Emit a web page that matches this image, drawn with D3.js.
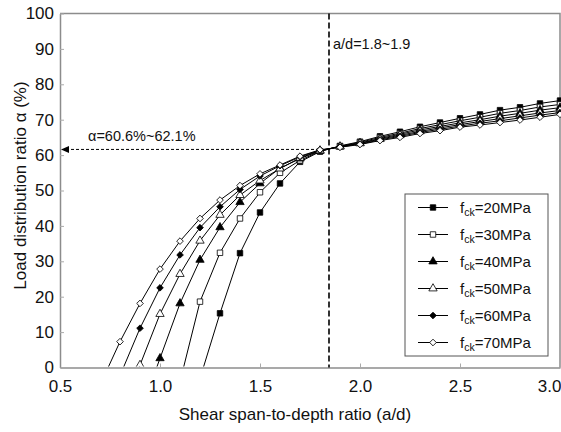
<!DOCTYPE html>
<html>
<head>
<meta charset="utf-8">
<script src="https://cdn.jsdelivr.net/npm/d3@7"></script>
<style>
  body { margin: 0; background: #fff; }
  text { font-family: "Liberation Sans", Arial, sans-serif; }
</style>
</head>
<body>
<div id="chart"></div>
<script>
// shear span-to-depth ratio (a/d) values where points were computed
var ratios = [0.7, 0.8, 0.9, 1.0, 1.1, 1.2, 1.3, 1.4, 1.5, 1.6, 1.7, 1.8,
              1.9, 2.0, 2.1, 2.2, 2.3, 2.4, 2.5, 2.6, 2.7, 2.8, 2.9, 3.0];

// load distribution ratio (%) for each concrete strength, null = no point
var fck20 = [null, null, null, null, null, -3.1, 15.3, 32.3, 43.8, 52.0, 58.1, 61.0,
             62.6, 63.8, 65.3, 66.6, 68.0, 69.2, 70.4, 71.5, 72.7, 73.5, 74.6, 75.4];
var fck30 = [null, null, null, null, -4, 18.6, 32.4, 42.1, 49.5, 55.0, 58.5, 61.1,
             62.5, 63.6, 65.0, 66.2, 67.5, 68.6, 69.7, 70.7, 71.8, 72.6, 73.6, 74.3];
var fck40 = [null, null, -13, 2.6, 18.1, 30.4, 39.6, 46.7, 52.0, 56.3, 59.0, 61.2,
             62.4, 63.4, 64.7, 65.9, 67.1, 68.1, 69.1, 70.0, 71.0, 71.8, 72.7, 73.4];
var fck50 = [null, -14, 0.7, 15.1, 26.4, 35.8, 43.1, 48.7, 52.8, 56.2, 59.2, 61.3,
             62.4, 63.3, 64.5, 65.6, 66.7, 67.7, 68.6, 69.5, 70.3, 71.1, 71.9, 72.6];
var fck60 = [null, -2.3, 11.1, 22.5, 31.8, 39.5, 45.4, 50.3, 54.1, 57.0, 59.5, 61.4,
             62.3, 63.1, 64.3, 65.3, 66.4, 67.3, 68.2, 69.0, 69.7, 70.5, 71.3, 72.0];
var fck70 = [-5, 7.3, 18.1, 27.8, 35.7, 42.1, 47.3, 51.4, 54.7, 57.2, 59.7, 61.5,
             62.2, 63.0, 64.1, 65.0, 66.1, 66.9, 67.9, 68.5, 69.2, 69.9, 70.7, 71.5];

var strengths = ["20", "30", "40", "50", "60", "70"];
var xTicks = [0.5, 1.0, 1.5, 2.0, 2.5, 3.0];
var yTicks = [0, 10, 20, 30, 40, 50, 60, 70, 80, 90, 100];

// where the curves cross
var crossRatio = 1.845;
var crossAlpha = 61.6;

var allSeries = [fck20, fck30, fck40, fck50, fck60, fck70];

// marker style per series: symbol, rotation, filled or open
var markers = [
  {sym: d3.symbolSquare, size: 30, rot: 0, fill: "#000"},
  {sym: d3.symbolSquare, size: 30, rot: 0, fill: "#fff"},
  {sym: d3.symbolTriangle, size: 30, rot: 0, fill: "#000"},
  {sym: d3.symbolTriangle, size: 30, rot: 0, fill: "#fff"},
  {sym: d3.symbolSquare, size: 22, rot: 45, fill: "#000"},
  {sym: d3.symbolSquare, size: 22, rot: 45, fill: "#fff"}
];

var margin = {top: 13.5, right: 1, bottom: 64.5, left: 60},
    width = 561 - margin.left - margin.right,
    height = 432 - margin.top - margin.bottom;

var svg = d3.select("#chart")
  .append("svg")
    .attr("width", 561)
    .attr("height", 432)
  .append("g")
    .attr("transform", "translate(" + margin.left + "," + margin.top + ")");

var x = d3.scaleLinear().domain([0.5, 3.0]).range([0, width]);
var y = d3.scaleLinear().domain([0, 100]).range([height, 0]);

svg.append("clipPath").attr("id", "clip")
  .append("rect").attr("x", 0).attr("y", -5).attr("width", width + 5).attr("height", height + 4);

// frame (top and right)
svg.append("path")
  .attr("d", "M0,0H" + width + "V" + height)
  .attr("fill", "none")
  .attr("stroke", "#8c8c8c")
  .attr("stroke-width", 1.5);

// x axis
var xAxis = svg.append("g")
  .attr("transform", "translate(0," + height + ")")
  .call(d3.axisBottom(x).tickValues(xTicks).tickSize(-4).tickSizeOuter(0).tickPadding(12)
    .tickFormat(d3.format(".1f")));
xAxis.select(".domain").attr("stroke", "#8c8c8c").attr("stroke-width", 1.5);
xAxis.selectAll(".tick line").attr("stroke", "#aaa");
xAxis.selectAll("text").attr("font-size", 17).attr("fill", "#111")
  .attr("font-family", "Liberation Sans, Arial, sans-serif");
xAxis.selectAll(".tick").filter(function(d) { return d === 3.0; })
  .select("text").attr("text-anchor", "end").attr("dx", 1);

// y axis
var yAxis = svg.append("g")
  .call(d3.axisLeft(y).tickValues(yTicks).tickSize(-4).tickSizeOuter(0).tickPadding(6));
yAxis.select(".domain").attr("stroke", "#8c8c8c").attr("stroke-width", 1.5);
yAxis.selectAll(".tick line").attr("stroke", "#aaa");
yAxis.selectAll("text").attr("font-size", 17).attr("fill", "#111")
  .attr("font-family", "Liberation Sans, Arial, sans-serif");

// axis titles
svg.append("text")
  .attr("x", width / 2 - 15)
  .attr("y", height + 52)
  .attr("text-anchor", "middle")
  .attr("font-size", 17)
  .attr("fill", "#111")
  .text("Shear span-to-depth ratio (a/d)");

svg.append("text")
  .attr("transform", "translate(" + (-34) + "," + (height / 2 - 5) + ") rotate(-90)")
  .attr("text-anchor", "middle")
  .attr("font-size", 17)
  .attr("fill", "#111")
  .text("Load distribution ratio α (%)");

// dashed guide lines
svg.append("line")
  .attr("x1", x(crossRatio)).attr("x2", x(crossRatio))
  .attr("y1", 0).attr("y2", height)
  .attr("stroke", "#000").attr("stroke-width", 1.6)
  .attr("stroke-dasharray", "6,3");

svg.append("line")
  .attr("x1", x(crossRatio)).attr("x2", x(0.5) + 6)
  .attr("y1", y(crossAlpha)).attr("y2", y(crossAlpha))
  .attr("stroke", "#000").attr("stroke-width", 1)
  .attr("stroke-dasharray", "3,2");

svg.append("path")
  .attr("d", "M" + (x(0.5) + 1) + "," + y(crossAlpha) + "l8,-3.5v7z")
  .attr("fill", "#000");

svg.append("text")
  .attr("x", 28).attr("y", y(crossAlpha) - 8)
  .attr("font-size", 14.5).attr("fill", "#111")
  .text("α=60.6%~62.1%");

svg.append("text")
  .attr("x", x(crossRatio) + 4).attr("y", 35)
  .attr("font-size", 14.5).attr("fill", "#111")
  .text("a/d=1.8~1.9");

// curves
var line = d3.line()
  .x(function(d) { return x(d[0]); })
  .y(function(d) { return y(d[1]); });

var plot = svg.append("g").attr("clip-path", "url(#clip)");

allSeries.forEach(function(vals, i) {
  var pts = ratios.map(function(r, j) { return [r, vals[j]]; })
                  .filter(function(d) { return d[1] !== null; });
  plot.append("path")
    .datum(pts)
    .attr("d", line)
    .attr("fill", "none")
    .attr("stroke", "#000")
    .attr("stroke-width", 1);
});

function drawMarker(sel, m) {
  sel.append("path")
    .attr("transform", "rotate(" + m.rot + ")")
    .attr("d", d3.symbol().type(m.sym).size(m.size))
    .attr("fill", m.fill)
    .attr("stroke", "#000")
    .attr("stroke-width", 0.8);
}

allSeries.forEach(function(vals, i) {
  var pts = ratios.map(function(r, j) { return [r, vals[j]]; })
                  .filter(function(d) { return d[1] !== null && d[1] >= 0; });
  plot.selectAll(".m" + i)
    .data(pts)
    .enter()
    .append("g")
      .attr("transform", function(d) { return "translate(" + x(d[0]) + "," + y(d[1]) + ")"; })
      .each(function() { drawMarker(d3.select(this), markers[i]); });
});

// legend
var legend = svg.append("g").attr("transform", "translate(345,180.5)");
legend.append("rect")
  .attr("width", 143).attr("height", 162)
  .attr("fill", "#fff")
  .attr("stroke", "#555").attr("stroke-width", 1);

strengths.forEach(function(s, i) {
  var row = legend.append("g").attr("transform", "translate(0," + (13.5 + i * 27) + ")");
  row.append("line")
    .attr("x1", 13).attr("x2", 43)
    .attr("stroke", "#000").attr("stroke-width", 1);
  drawMarker(row.append("g").attr("transform", "translate(28,0)"), markers[i]);
  var t = row.append("text")
    .attr("x", 55).attr("y", 5.5)
    .attr("font-size", 15).attr("fill", "#111");
  t.append("tspan").text("f");
  t.append("tspan").attr("font-size", 10.5).attr("dy", 3).text("ck");
  t.append("tspan").attr("dy", -3).text("=" + s + "MPa");
});
</script>
</body>
</html>
